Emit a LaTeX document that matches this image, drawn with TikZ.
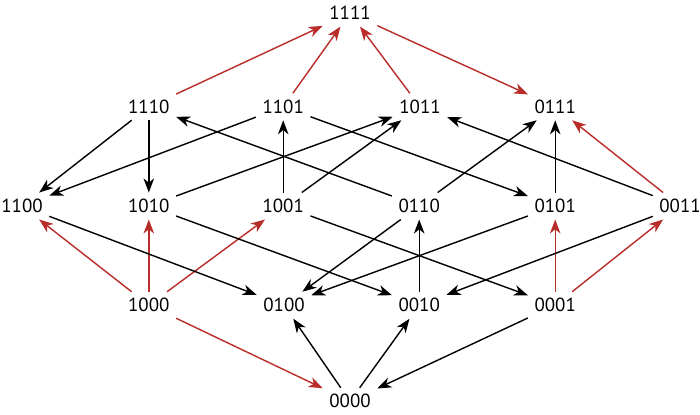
\documentclass[tikz,border=0pt]{standalone}
\usepackage{fontspec}
\setmainfont{PT Sans}
\usepackage{tikz}
\usetikzlibrary{arrows.meta,positioning,calc}

\definecolor{flipred}{RGB}{185,45,40}

\tikzset{
  state/.style={font=\fontsize{13.5}{16}\selectfont, inner sep=4.5pt},
  up/.style={-{Stealth[length=10pt,width=7.5pt,inset=3pt]}, line width=1pt, black},
  upred/.style={up, flipred}
}

\begin{document}
\begin{tikzpicture}
  \useasboundingbox (0,0) rectangle (17.5,10.35);

  % --- Top and bottom states ---
  \node[state] (s1111) at (8.75,10.02) {1111};
  \node[state] (s0000) at (8.75,0.32) {0000};

  % --- Three ones ---
  \node[state] (s1110) at (3.72,7.68) {1110};
  \node[state] (s1101) at (7.08,7.68) {1101};
  \node[state] (s1011) at (10.50,7.68) {1011};
  \node[state] (s0111) at (13.88,7.68) {0111};

  % --- Two ones ---
  \node[state] (s1100) at (0.55,5.20) {1100};
  \node[state] (s1010) at (3.72,5.20) {1010};
  \node[state] (s1001) at (7.08,5.20) {1001};
  \node[state] (s0110) at (10.48,5.20) {0110};
  \node[state] (s0101) at (13.88,5.20) {0101};
  \node[state] (s0011) at (17.00,5.20) {0011};

  % --- One one ---
  \node[state] (s1000) at (3.72,2.72) {1000};
  \node[state] (s0100) at (7.10,2.72) {0100};
  \node[state] (s0010) at (10.48,2.72) {0010};
  \node[state] (s0001) at (13.88,2.72) {0001};

  % Red transitions
  \draw[upred] (s1110) -- (s1111);
  \draw[upred] (s1101) -- (s1111);
  \draw[upred] (s1011) -- (s1111);
  \draw[upred] (s1111) -- (s0111);
  \draw[upred] (s0011) -- (s0111);
  \draw[upred] (s1000) -- (s1100);
  \draw[upred] (s1000) -- (s1010);
  \draw[upred] (s1000) -- (s1001);
  \draw[upred] (s0001) -- (s0101);
  \draw[upred] (s0001) -- (s0011);
  \draw[upred] (s1000) -- (s0000);

  % Black transitions, upper layer
  \draw[up] (s1110) -- (s1100);
  \draw[up] (s1110) -- (s1010);
  \draw[up] (s1101) -- (s1100);
  \draw[up] (s1001) -- (s1101);
  \draw[up] (s1101) -- (s0101);
  \draw[up] (s0110) -- (s1110);
  \draw[up] (s1010) -- (s1011);
  \draw[up] (s1001) -- (s1011);
  \draw[up] (s0110) -- (s0111);
  \draw[up] (s0101) -- (s0111);
  \draw[up] (s0011) -- (s1011);

  % Black transitions, lower layer
  \draw[up] (s1100) -- (s0100);
  \draw[up] (s1010) -- (s0010);
  \draw[up] (s1001) -- (s0001);
  \draw[up] (s0110) -- (s0100);
  \draw[up] (s0101) -- (s0100);
  \draw[up] (s0010) -- (s0110);
  \draw[up] (s0011) -- (s0010);
  \draw[up] (s0000) -- (s0100);
  \draw[up] (s0000) -- (s0010);
  \draw[up] (s0001) -- (s0000);
\end{tikzpicture}
\end{document}
